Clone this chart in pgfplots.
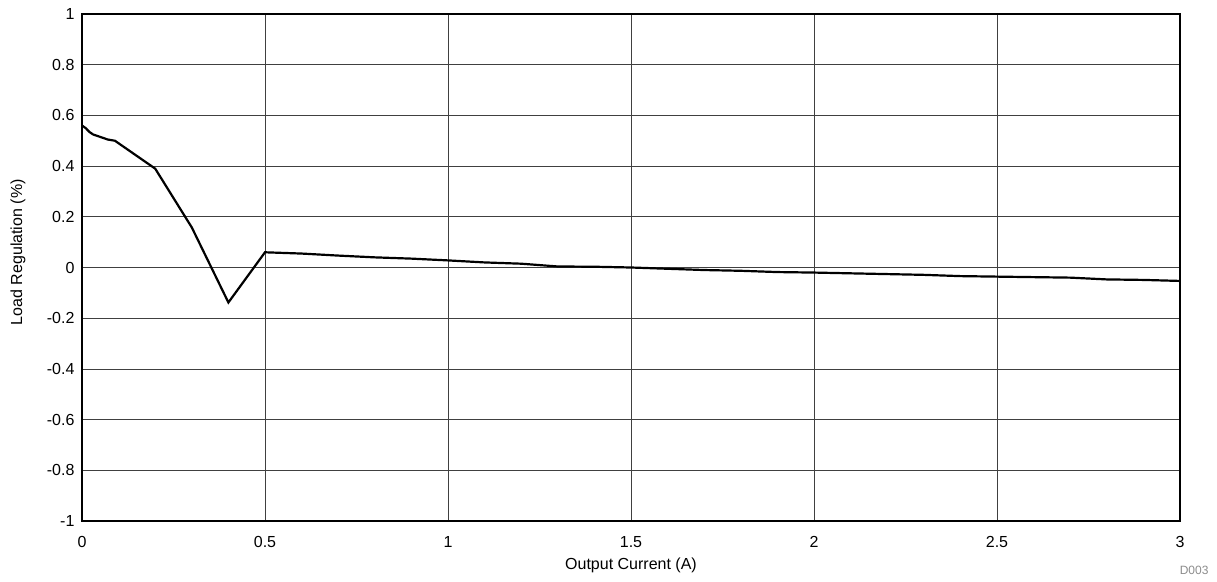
\documentclass[border=0pt]{standalone}
\usepackage{pgfplots}
\pgfplotsset{compat=1.18}
\usepackage{fontspec}
\setmainfont{Liberation Sans}
\begin{document}
\begin{tikzpicture}
\begin{axis}[
  name=ax,
  scale only axis,
  width=1098pt, height=507pt,
  xmin=0, xmax=3, ymin=-1, ymax=1,
  xtick={0,0.5,...,3},
  ytick={-1,-0.8,...,1.01},
  xticklabels={0,0.5,1,1.5,2,2.5,3},
  yticklabels={-1,-0.8,-0.6,-0.4,-0.2,0,0.2,0.4,0.6,0.8,1},
  major tick length=0pt,
  grid=major,
  major grid style={black!75, line width=0.8pt},
  axis line style={line width=2.5pt},
  tick label style={font=\fontsize{16pt}{18pt}\selectfont},
  xticklabel style={yshift=-12pt},
  yticklabel style={xshift=-4pt},
  label style={font=\fontsize{16pt}{18pt}\selectfont},
  xlabel={Output Current (A)},
  ylabel={Load Regulation (\%)},
  xlabel style={at={(axis description cs:0.5,0)}, anchor=center, yshift=-44pt},
  ylabel style={at={(axis description cs:0,0.53)}, anchor=center, yshift=64pt},
]
\addplot[black, line width=2.2pt] coordinates {
(0,0.56) (0.01,0.55) (0.02,0.535) (0.03,0.525) (0.05,0.515) (0.07,0.505) (0.09,0.5) (0.1,0.49)
(0.2,0.39) (0.3,0.158) (0.4,-0.138) (0.5,0.06)
(0.6,0.055) (0.7,0.047) (0.8,0.04) (0.9,0.035) (1.0,0.028) (1.1,0.02) (1.2,0.015)
(1.3,0.004) (1.4,0.003) (1.5,0.0) (1.6,-0.005) (1.7,-0.01) (1.8,-0.013) (1.9,-0.018)
(2.0,-0.02) (2.1,-0.023) (2.2,-0.026) (2.3,-0.029) (2.4,-0.034) (2.5,-0.036)
(2.6,-0.038) (2.7,-0.04) (2.8,-0.047) (2.9,-0.049) (3.0,-0.053)
};
\end{axis}
\node[anchor=base east, text=black!45, font=\fontsize{12pt}{14pt}\selectfont] at ([xshift=32pt,yshift=-53pt]ax.south east) {D003};
\pgfresetboundingbox
\path[use as bounding box] ([xshift=-82pt,yshift=-60pt]ax.south west) rectangle ([xshift=37pt,yshift=14pt]ax.north east);
\end{tikzpicture}
\end{document}
